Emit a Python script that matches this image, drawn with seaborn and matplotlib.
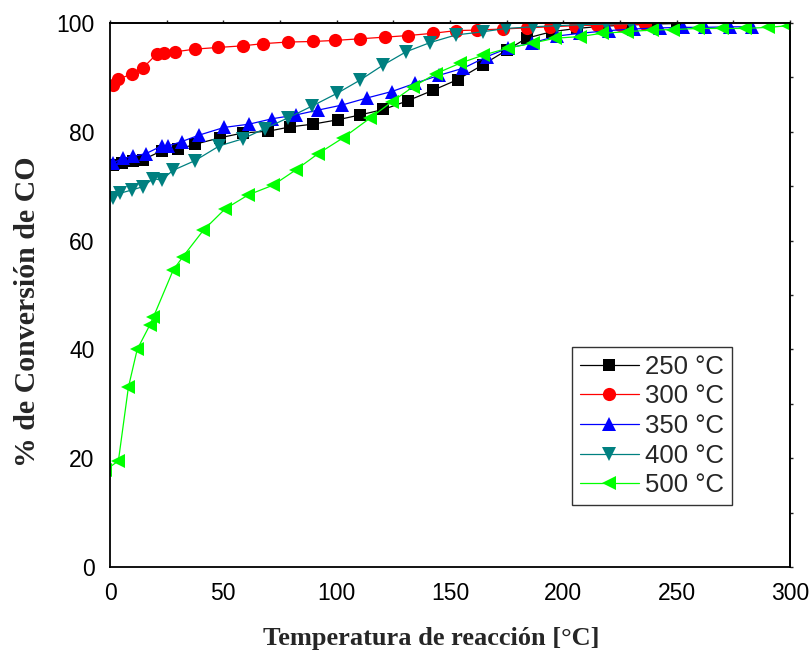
import matplotlib
matplotlib.use("Agg")
import matplotlib.pyplot as plt
from matplotlib.ticker import MultipleLocator
import seaborn as sns
import pandas as pd

labels = ["250 °C", "300 °C", "350 °C", "400 °C", "500 °C"]

x250 = [1.2, 5.2, 10.3, 14.7, 22.8, 30.1, 37.5, 48.5, 58.8, 69.8, 79.4, 89.4, 100.4, 110.3, 120.6,
        131.3, 142.3, 153.4, 164.4, 175.0, 183.8, 194.8, 205.9, 217.0, 228.0, 239.0, 250.0]
y250 = [73.9, 74.3, 74.7, 74.9, 76.5, 76.8, 77.7, 78.9, 79.8, 80.1, 80.9, 81.4, 82.2, 83.1, 84.1,
        85.7, 87.6, 89.6, 92.3, 95.0, 97.2, 98.4, 99.0, 99.4, 99.6, 99.8, 99.9]

x300 = [1.2, 3.7, 9.6, 14.7, 20.6, 24.0, 28.7, 37.5, 47.5, 58.5, 67.4, 78.4, 89.4, 99.4, 110.3,
        121.3, 131.6, 142.3, 152.6, 161.7, 173.4, 183.8, 194.0, 205.0, 215.0, 225.0, 236.0]
y300 = [88.6, 89.7, 90.6, 91.8, 94.3, 94.4, 94.7, 95.2, 95.5, 95.8, 96.2, 96.5, 96.6, 96.8, 97.1,
        97.4, 97.7, 98.1, 98.6, 98.7, 98.9, 99.1, 99.3, 99.5, 99.6, 99.7, 99.8]

x350 = [1.2, 5.9, 10.3, 15.9, 22.8, 25.7, 31.6, 39.4, 50.3, 61.3, 71.6, 82.0, 91.9, 102.2, 113.2,
        124.3, 134.5, 145.3, 155.9, 166.2, 175.7, 186.0, 197.0, 207.3, 220.0, 231.0, 242.6, 252.8,
        262.5, 273.5, 283.2]
y350 = [74.3, 75.1, 75.5, 76.0, 77.4, 77.4, 78.2, 79.4, 80.8, 81.4, 82.4, 83.1, 84.0, 84.9, 86.2,
        87.4, 88.9, 90.4, 91.7, 93.8, 95.4, 96.3, 97.6, 98.1, 98.6, 98.9, 99.1, 99.2,
        99.2, 99.3, 99.3]

x400 = [1.2, 4.4, 9.6, 14.4, 19.1, 22.8, 27.7, 37.5, 48.2, 58.5, 68.4, 78.7, 89.0, 100.3, 110.3,
        120.6, 130.6, 141.2, 152.6, 164.7, 174.7, 186.7, 197.0, 208.0, 219.0, 230.0]
y400 = [67.8, 68.7, 69.3, 69.9, 71.4, 71.1, 72.9, 74.7, 77.4, 78.7, 80.6, 82.6, 84.7, 87.1, 89.5,
        92.3, 94.7, 96.4, 97.8, 98.4, 99.0, 99.3, 99.5, 99.7, 99.8, 99.9]

x500 = [-2.0, 3.7, 8.1, 12.0, 17.6, 19.1, 27.9, 32.1, 41.2, 50.7, 61.0, 72.0, 82.0, 91.9, 102.9,
        114.7, 124.3, 133.8, 143.8, 154.4, 164.7, 175.7, 186.4, 196.3, 207.3, 216.9, 227.9, 239.0,
        248.5, 259.5, 269.9, 280.1, 290.4, 299.3]
y500 = [17.8, 19.5, 33.0, 40.0, 44.5, 45.9, 54.6, 57.0, 61.9, 65.8, 68.4, 70.2, 73.0, 76.0, 78.9,
        82.5, 85.5, 88.3, 90.7, 92.6, 94.1, 95.4, 96.3, 97.2, 97.5, 98.1, 98.4, 98.7,
        98.8, 99.0, 99.0, 99.0, 99.2, 99.5]

xticks = [0, 50, 100, 150, 200, 250, 300]
yticks = [0, 20, 40, 60, 80, 100]

series = [(x250, y250), (x300, y300), (x350, y350), (x400, y400), (x500, y500)]
colors = ["#000000", "#ff0000", "#0000ff", "#008080", "#00ff00"]
markers = ["s", "o", "^", "v", "<"]
msizes = [9, 9.5, 10.5, 10.5, 10.5]

sns.set_theme(style="white")
plt.rcParams['font.family'] = ['Liberation Sans', 'DejaVu Sans']

fig = plt.figure(figsize=(8.11, 6.53), dpi=100)
ax = fig.add_axes([110/811, 1-567/653, 680/811, 544/653])

for (xs, ys), lab, c, m, ms in zip(series, labels, colors, markers, msizes):
    df = pd.DataFrame({"x": xs, "y": ys})
    sns.lineplot(data=df, x="x", y="y", ax=ax, color=c, marker=m, markersize=ms,
                 markeredgecolor=c, markeredgewidth=0, linewidth=0.9, label=lab,
                 estimator=None, sort=False)

ax.set_xlim(0, 300)
ax.set_ylim(0, 100)
ax.set_xticks(xticks)
ax.set_yticks(yticks)
ax.xaxis.set_minor_locator(MultipleLocator(25))
ax.yaxis.set_minor_locator(MultipleLocator(10))
ax.tick_params(which="both", direction="out", width=1.2, colors="black",
               labelsize=16.5, pad=3)
ax.tick_params(which="major", length=8)
ax.tick_params(which="minor", length=4.5)
for s in ax.spines.values():
    s.set_color("black")
    s.set_linewidth(1.3)

# short ticks on top and right spines
top = ax.secondary_xaxis("top")
top.set_xticks(xticks)
top.xaxis.set_minor_locator(MultipleLocator(25))
top.tick_params(which="both", direction="out", length=2.5, width=1.0, labeltop=False)
top.spines["top"].set_linewidth(1.3)
right = ax.secondary_yaxis("right")
right.set_yticks(yticks)
right.yaxis.set_minor_locator(MultipleLocator(10))
right.tick_params(which="both", direction="out", length=2.5, width=1.0, labelright=False)
right.spines["right"].set_linewidth(1.3)

ax.set_xlabel("Temperatura de reacción [°C]", fontfamily="Liberation Serif",
              fontweight="bold", fontsize=19)
ax.set_ylabel("% de Conversión de CO", fontfamily="Liberation Serif",
              fontweight="bold", fontsize=21.5)
ax.xaxis.set_label_coords(0.472, -0.111)
ax.yaxis.set_label_coords(-0.101, 0.469)

leg = ax.legend(loc="upper left", bbox_to_anchor=(462/680, 1-(347-23)/544), fontsize=18.5,
                frameon=True, fancybox=False, shadow=False, handlelength=2.3,
                handletextpad=0.25, borderpad=0.3, labelspacing=0.22, borderaxespad=0)
leg.get_frame().set_edgecolor("black")
leg.get_frame().set_linewidth(1.0)

fig.savefig("out.png", dpi=100)
